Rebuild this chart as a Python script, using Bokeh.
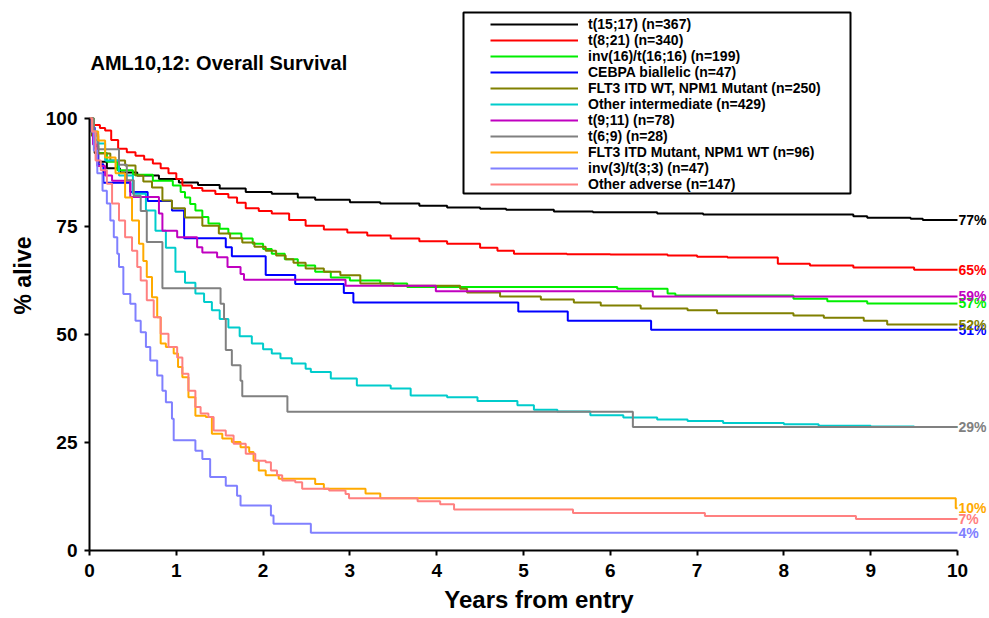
from bokeh.plotting import figure
from bokeh.models import Range1d, FixedTicker, Label, BoxAnnotation, Legend, LegendItem
from bokeh.embed import file_html
from bokeh.resources import INLINE

# ---------------- data ----------------
names = [
    "t(15;17) (n=367)",
    "t(8;21) (n=340)",
    "inv(16)/t(16;16) (n=199)",
    "CEBPA biallelic (n=47)",
    "FLT3 ITD WT, NPM1 Mutant (n=250)",
    "Other intermediate (n=429)",
    "t(9;11) (n=78)",
    "t(6;9) (n=28)",
    "FLT3 ITD Mutant, NPM1 WT (n=96)",
    "inv(3)/t(3;3) (n=47)",
    "Other adverse (n=147)",
]
colors = ["#000000", "#ff0000", "#00ee00", "#0000ff", "#808000", "#00cccc",
          "#c000c0", "#808080", "#ffaa00", "#8080ff", "#ff8080"]
end_labels = ["77%", "65%", "57%", "51%", "52%", None, "59%", "29%", "10%", "4%", "7%"]

t_apl = [0, 0.03, 0.06, 0.1, 0.2, 0.35, 0.55, 0.8, 1.03, 1.25, 1.5, 1.8, 2.1, 2.4, 2.6, 3.0, 3.35,
         3.8, 4.12, 4.5, 4.8, 5.35, 5.8, 6.54, 7.07, 8.8, 8.96, 9.46, 9.6, 10]
s_apl = [100, 96, 92, 90, 88.5, 87.5, 86.8, 86, 85.2, 84.6, 83.8, 83.0, 82.6, 81.7, 81.2, 80.6, 80.3,
         79.8, 79.4, 79.1, 78.9, 78.5, 78.3, 78.0, 77.8, 77.4, 77.0, 76.8, 76.5, 76.5]

t_821 = [0, 0.05, 0.12, 0.18, 0.25, 0.33, 0.43, 0.53, 0.63, 0.73, 0.82, 0.91, 1.0, 1.07, 1.18, 1.3,
         1.45, 1.6, 1.7, 1.8, 1.95, 2.1, 2.3, 2.49, 2.7, 2.97, 3.2, 3.47, 3.8, 4.12, 4.5, 4.7, 4.89,
         5.5, 6.0, 6.66, 7.0, 7.35, 7.93, 8.3, 8.8, 9.5, 10]
s_821 = [100, 98.5, 97.8, 97.2, 95, 93, 92.2, 91.4, 90.5, 89.6, 88.5, 87.3, 86, 84.5, 83.9, 83.3,
         82.5, 81.7, 80.5, 79.2, 78.6, 78.0, 76.5, 75.2, 74.3, 73.6, 72.9, 72.2, 71.6, 71.0, 70.1, 69.4,
         68.7, 68.6, 68.5, 68.3, 68.0, 67.8, 66.4, 66.0, 65.5, 65.0, 65.0]

t_inv16 = [0, 0.05, 0.1, 0.2, 0.32, 0.5, 0.73, 0.96, 1.05, 1.1, 1.16, 1.22, 1.3, 1.37, 1.5, 1.6, 1.75,
           1.88, 2.0, 2.1, 2.25, 2.4, 2.6, 2.78, 3.0, 3.35, 3.66, 6.08, 6.66, 6.75, 8.11, 8.5, 8.96, 10]
s_inv16 = [100, 95, 92, 90, 88, 87, 85.6, 84.5, 83, 81.7, 80.2, 78.7, 77.2, 75.7, 74.5, 73.4, 72.2,
           71, 69.8, 68.7, 67.4, 66, 64.5, 63.2, 62.5, 61.8, 61, 60.6, 59.5, 59.0, 58.3, 57.7, 57.2, 57.2]

t_cebpa = [0, 0.03, 0.06, 0.1, 0.16, 0.47, 0.67, 0.95, 1.09, 1.57, 1.64, 2.03, 2.37, 2.93, 3.04,
           4.94, 5.51, 6.47, 10]
s_cebpa = [100, 97.9, 93.6, 89.4, 85.1, 83.0, 80.9, 78.7, 72.3, 70.2, 68.1, 63.8, 61.7, 59.6, 57.4,
           55.3, 53.2, 51.1, 51.1]

t_npm1 = [0, 0.03, 0.1, 0.24, 0.41, 0.53, 0.62, 0.72, 0.84, 0.95, 1.1, 1.3, 1.49, 1.62, 1.76, 1.9,
          2.03, 2.15, 2.26, 2.35, 2.49, 2.7, 2.89, 3.12, 3.5, 4.27, 4.35, 4.73, 5.2, 5.58, 5.89, 6.35,
          6.89, 7.23, 8.11, 8.46, 8.92, 9.19, 10]
s_npm1 = [100, 96, 91.9, 90.3, 89.1, 86.8, 85.4, 84, 81, 79.2, 77.1, 75.2, 73.4, 72.3, 71.3, 70.3,
          69.4, 68.3, 67.4, 66.6, 65.3, 64.5, 63.7, 61.8, 61.3, 60.6, 59.7, 58.8, 58.1, 57.4, 56.7, 56.0,
          55.6, 54.9, 54.4, 53.9, 53.2, 52.3, 52.3]

t_int = [0, 0.04, 0.09, 0.18, 0.34, 0.5, 0.65, 0.76, 0.88, 0.99, 1.1, 1.22, 1.32, 1.41, 1.5, 1.6,
         1.73, 1.87, 2.0, 2.1, 2.2, 2.33, 2.49, 2.55, 2.78, 3.08, 3.47, 3.7, 4.12, 4.47, 4.93, 5.12,
         5.39, 5.77, 6.15, 6.54, 6.89, 7.3, 8.0, 8.4, 9.0, 9.5, 10]
s_int = [100, 97, 94.2, 90.3, 86.8, 82.6, 78.7, 74, 70.1, 64.5, 62, 59.5, 57.5, 55.6, 53.6, 51.6,
         49.6, 47.9, 46.6, 45.6, 44.5, 43.3, 42.1, 41.3, 39.8, 38.2, 37.5, 35.9, 35.5, 34.6, 33.6, 32.6,
         32.2, 31.3, 30.8, 30.3, 30.0, 29.5, 29.2, 28.9, 28.7, 28.6, 28.6]

t_911 = [0, 0.04, 0.09, 0.18, 0.26, 0.47, 0.8, 0.84, 1.01, 1.24, 1.3, 1.47, 1.59, 1.74, 1.78, 2.95,
         3.99, 6.49, 10]
s_911 = [100, 94, 89, 86.8, 85.6, 81.8, 78.0, 74.0, 72.5, 70.2, 69.0, 67.9, 65.6, 64.0, 62.7, 61.3,
         60.0, 58.8, 58.8]

t_69 = [0, 0.05, 0.1, 0.34, 0.43, 0.51, 0.59, 0.66, 0.84, 1.51, 1.55, 1.57, 1.64, 1.74, 1.76, 2.28,
        6.26, 10]
s_69 = [100, 96.4, 92.9, 89.3, 85.7, 82.1, 78.6, 71.4, 60.7, 57.1, 53.6, 46.4, 42.9, 39.3, 35.7, 32.1,
        28.6, 28.6]

t_flt3 = [0, 0.03, 0.1, 0.18, 0.3, 0.41, 0.49, 0.57, 0.62, 0.66, 0.72, 0.78, 0.82, 0.88, 0.97, 1.02,
          1.07, 1.14, 1.22, 1.34, 1.41, 1.53, 1.64, 1.74, 1.84, 1.89, 1.95, 2.03, 2.18, 2.6, 2.7, 3.18,
          3.35, 9.98, 10]
s_flt3 = [100, 97, 94.9, 91, 87.3, 81.7, 76.4, 71, 67, 63.3, 58.6, 54, 47.9, 47.1, 45.6, 42.5,
          40.1, 35.5, 31.2, 30.9, 27, 25.9, 25.1, 23.9, 22.8, 20.8, 18.5, 17.4, 16.6, 15.4, 14.3, 13.2,
          12.1, 9.8, 9.8]

t_inv3 = [0, 0.01, 0.05, 0.09, 0.15, 0.2, 0.24, 0.28, 0.32, 0.34, 0.39, 0.47, 0.53, 0.59, 0.65, 0.7,
          0.78, 0.84, 0.88, 0.95, 0.97, 1.22, 1.3, 1.39, 1.57, 1.7, 1.74, 2.09, 2.12, 2.55, 10]
s_inv3 = [100, 97, 92.6, 87.3, 83.3, 80.3, 76.4, 72.5, 68.7, 65.6, 59.4, 57.1, 53.2, 50.5, 47.1, 44,
          40.5, 37, 34.3, 30.5, 25.5, 23.1, 21.2, 17, 15, 12.7, 10.4, 8.1, 6.2, 4.1, 4.1]

t_adv = [0, 0.03, 0.07, 0.13, 0.2, 0.26, 0.34, 0.41, 0.49, 0.55, 0.59, 0.66, 0.74, 0.82, 0.91, 1.01,
         1.07, 1.14, 1.22, 1.28, 1.37, 1.43, 1.57, 1.66, 1.8, 1.91, 2.03, 2.09, 2.16, 2.22, 2.37, 2.45,
         2.76, 2.95, 2.99, 3.78, 4.04, 4.2, 5.57, 7.09, 8.83, 10]
s_adv = [100, 97, 90.3, 88, 84.9, 80.3, 76.4, 72.5, 69.4, 65.6, 62.5, 57.9, 54, 50.2, 47.1, 44.7,
         40.9, 37, 33.2, 31.7, 30.9, 27.8, 26.6, 24.7, 22.4, 20.8, 20.4, 18.5, 17.4, 16.2, 15.8, 14.3,
         13.9, 13.1, 12.1, 11.4, 10.7, 9.5, 8.7, 8.0, 7.3, 7.3]

times = [t_apl, t_821, t_inv16, t_cebpa, t_npm1, t_int, t_911, t_69, t_flt3, t_inv3, t_adv]
survs = [s_apl, s_821, s_inv16, s_cebpa, s_npm1, s_int, s_911, s_69, s_flt3, s_inv3, s_adv]

x_ticks = list(range(0, 11))
y_ticks = [0, 25, 50, 75, 100]

# ---------------- layout ----------------
W, H = 988, 617
FL, FB = 89, 550                  # frame left / bottom in canvas px (frame reaches top & right edges)
PX_PER_YEAR = 86.8
PX_PER_PCT = 4.32
x_right = (W - FL) / PX_PER_YEAR
y_top = FB / PX_PER_PCT
FONT = "Liberation Sans"


def dx(cx):
    return (cx - FL) / PX_PER_YEAR


def dy(cy):
    return (FB - cy) / PX_PER_PCT


p = figure(width=W, height=H, x_range=Range1d(0, x_right), y_range=Range1d(0, y_top),
           output_backend="svg", toolbar_location=None,
           min_border_left=FL, min_border_right=0, min_border_top=0,
           min_border_bottom=H - FB)
p.outline_line_color = None
p.grid.visible = False
p.background_fill_color = "white"

p.xaxis.ticker = FixedTicker(ticks=x_ticks)
p.yaxis.ticker = FixedTicker(ticks=y_ticks)
p.xaxis.bounds = (0, 10)
p.yaxis.bounds = (0, 100)
p.xaxis.axis_label = "Years from entry"
p.yaxis.axis_label = "% alive"
for ax in (p.xaxis, p.yaxis):
    ax.axis_line_width = 2
    ax.axis_line_color = "black"
    ax.major_tick_line_width = 2
    ax.major_tick_line_color = "black"
    ax.major_tick_in = 0
    ax.major_tick_out = 5
    ax.minor_tick_line_color = None
    ax.major_label_text_font = FONT
    ax.major_label_text_font_style = "bold"
    ax.major_label_text_font_size = "19px"
    ax.major_label_text_color = "black"
    ax.axis_label_text_font = FONT
    ax.axis_label_text_font_style = "bold"
    ax.axis_label_text_color = "black"
p.xaxis.axis_label_text_font_size = "24px"
p.yaxis.axis_label_text_font_size = "23px"
p.xaxis.major_label_standoff = 8
p.yaxis.major_label_standoff = 7
p.xaxis.axis_label_standoff = 6
p.yaxis.axis_label_standoff = 7

renderers = []
for t, s, c in zip(times, survs, colors):
    r = p.step(t, s, mode="after", line_color=c, line_width=2)
    renderers.append(r)

for s, c, lab in zip(survs, colors, end_labels):
    if lab is None:
        continue
    p.add_layout(Label(x=10, y=s[-1], x_offset=1, text=lab, text_color=c,
                       text_font=FONT, text_font_style="bold", text_font_size="14px",
                       text_baseline="middle", text_align="left"))

p.add_layout(Label(x=dx(90), y=dy(62), text="AML10,12: Overall Survival",
                   text_font=FONT, text_font_style="bold", text_font_size="20px",
                   text_baseline="middle", text_align="left", text_color="black"))

box = BoxAnnotation(left=dx(463), right=dx(850), top=dy(12), bottom=dy(193),
                    fill_color="white", fill_alpha=1.0, line_color="black", line_alpha=1.0,
                    line_width=2)
p.add_layout(box)

items = [LegendItem(label=n, renderers=[r]) for n, r in zip(names, renderers)]
legend = Legend(items=items, location=(490 - FL, FB - 192), orientation="vertical",
                glyph_width=88, glyph_height=14, label_height=14, spacing=0, padding=0,
                margin=0, label_standoff=10, label_text_font=FONT,
                label_text_font_style="bold", label_text_font_size="14px",
                label_text_color="black", border_line_color=None, background_fill_alpha=0)
p.add_layout(legend)

open("out.html", "w").write(file_html(p, INLINE))
